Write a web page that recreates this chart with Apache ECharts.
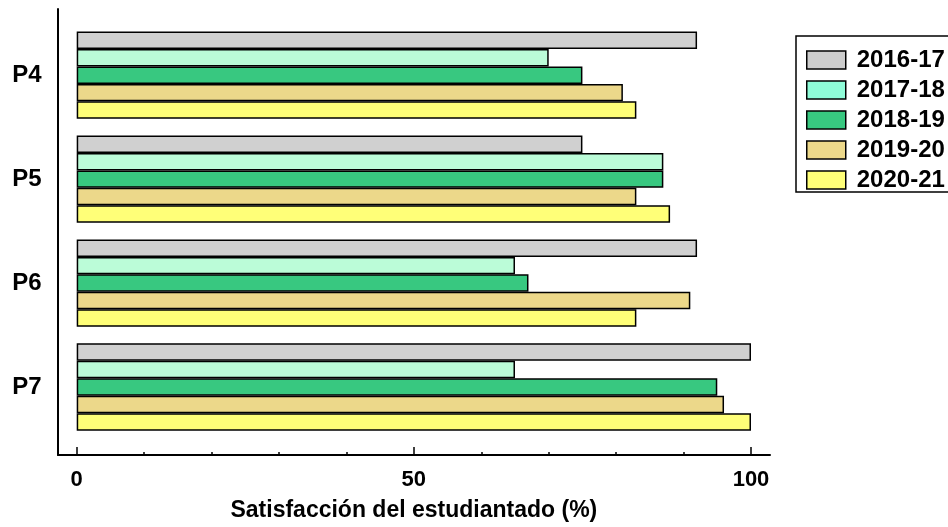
<!DOCTYPE html>
<html>
<head>
<meta charset="utf-8">
<script src="https://cdn.jsdelivr.net/npm/echarts@6/dist/echarts.min.js"></script>
<style>
html,body{margin:0;padding:0;background:#fff;}
#chart{width:948px;height:527px;}
</style>
</head>
<body>
<div id="chart"></div>
<script>
const categories = ['P4', 'P5', 'P6', 'P7'];
const seriesNames = ['2016-17', '2017-18', '2018-19', '2019-20', '2020-21'];
const v2016_17 = [92, 75, 92, 100];
const v2017_18 = [70, 87, 65, 65];
const v2018_19 = [75, 87, 67, 95];
const v2019_20 = [81, 83, 91, 96];
const v2020_21 = [83, 88, 83, 100];
const xTickValues = [0, 50, 100];
const axisTitle = 'Satisfacción del estudiantado (%)';

const values = [v2016_17, v2017_18, v2018_19, v2019_20, v2020_21];
const barColors = ['#d0d0d0', '#bbfcd8', '#38c880', '#ecd88a', '#ffff78'];
const legendColors = ['#cccccc', '#8ffcd8', '#38c880', '#ecd88a', '#ffff78'];
const FONT = '"Liberation Sans", Arial, sans-serif';

const chart = echarts.init(document.getElementById('chart'));
const option = {
  backgroundColor: '#ffffff',
  animation: false,
  textStyle: { fontFamily: FONT },
  legend: {
    orient: 'vertical',
    left: 796,
    top: 36,
    padding: [12, 60, 0, 10],
    borderColor: '#000',
    borderWidth: 1.5,
    itemWidth: 39,
    itemHeight: 18,
    itemGap: 6,
    icon: 'rect',
    textStyle: { fontSize: 24, fontWeight: 'bold', color: '#000', fontFamily: FONT, padding: [6, 0, 0, 6] },
    data: seriesNames.map((n, i) => ({ name: n, itemStyle: { color: legendColors[i], borderColor: '#000', borderWidth: 1.5 } }))
  },
  grid: [
    { left: 76.7, right: 197, top: 23.2, bottom: 87.8, containLabel: false },
    { left: 58, right: 178, top: 9, bottom: 72, containLabel: false }
  ],
  xAxis: [
    {
      type: 'value', gridIndex: 0, min: 0, max: 100, interval: 50,
      offset: 16,
      axisLine: { show: false },
      axisTick: { show: true, inside: true, length: 8, lineStyle: { color: '#000', width: 1.5 } },
      minorTick: { show: true, splitNumber: 5, length: 3, lineStyle: { color: '#000', width: 1.5 } },
      splitLine: { show: false },
      axisLabel: {
        fontSize: 22, fontWeight: 'bold', color: '#000', fontFamily: FONT, margin: 14,
        formatter: v => (xTickValues.indexOf(v) >= 0 ? String(v) : '')
      },
      name: axisTitle,
      nameLocation: 'middle',
      nameGap: 44,
      nameTextStyle: { fontSize: 23, fontWeight: 'bold', color: '#000', fontFamily: FONT }
    },
    {
      type: 'value', gridIndex: 1, min: 0, max: 1,
      axisLine: { show: true, lineStyle: { color: '#000', width: 2 } },
      axisTick: { show: false }, axisLabel: { show: false }, splitLine: { show: false }
    }
  ],
  yAxis: [
    {
      type: 'category', gridIndex: 0, data: categories, inverse: true,
      axisLine: { show: false }, axisTick: { show: false },
      axisLabel: { fontSize: 24, fontWeight: 'bold', color: '#000', fontFamily: FONT, margin: 35, padding: [6, 0, 0, 0] }
    },
    {
      type: 'value', gridIndex: 1, min: 0, max: 1,
      axisLine: { show: true, lineStyle: { color: '#000', width: 2 } },
      axisTick: { show: false }, axisLabel: { show: false }, splitLine: { show: false }
    }
  ],
  series: seriesNames.map((n, i) => ({
    name: n,
    type: 'bar',
    xAxisIndex: 0,
    yAxisIndex: 0,
    data: values[i],
    barGap: '0%',
    barCategoryGap: '16%',
    itemStyle: { color: barColors[i], borderColor: '#000', borderWidth: 1.5 }
  }))
};
chart.setOption(option);
</script>
</body>
</html>
